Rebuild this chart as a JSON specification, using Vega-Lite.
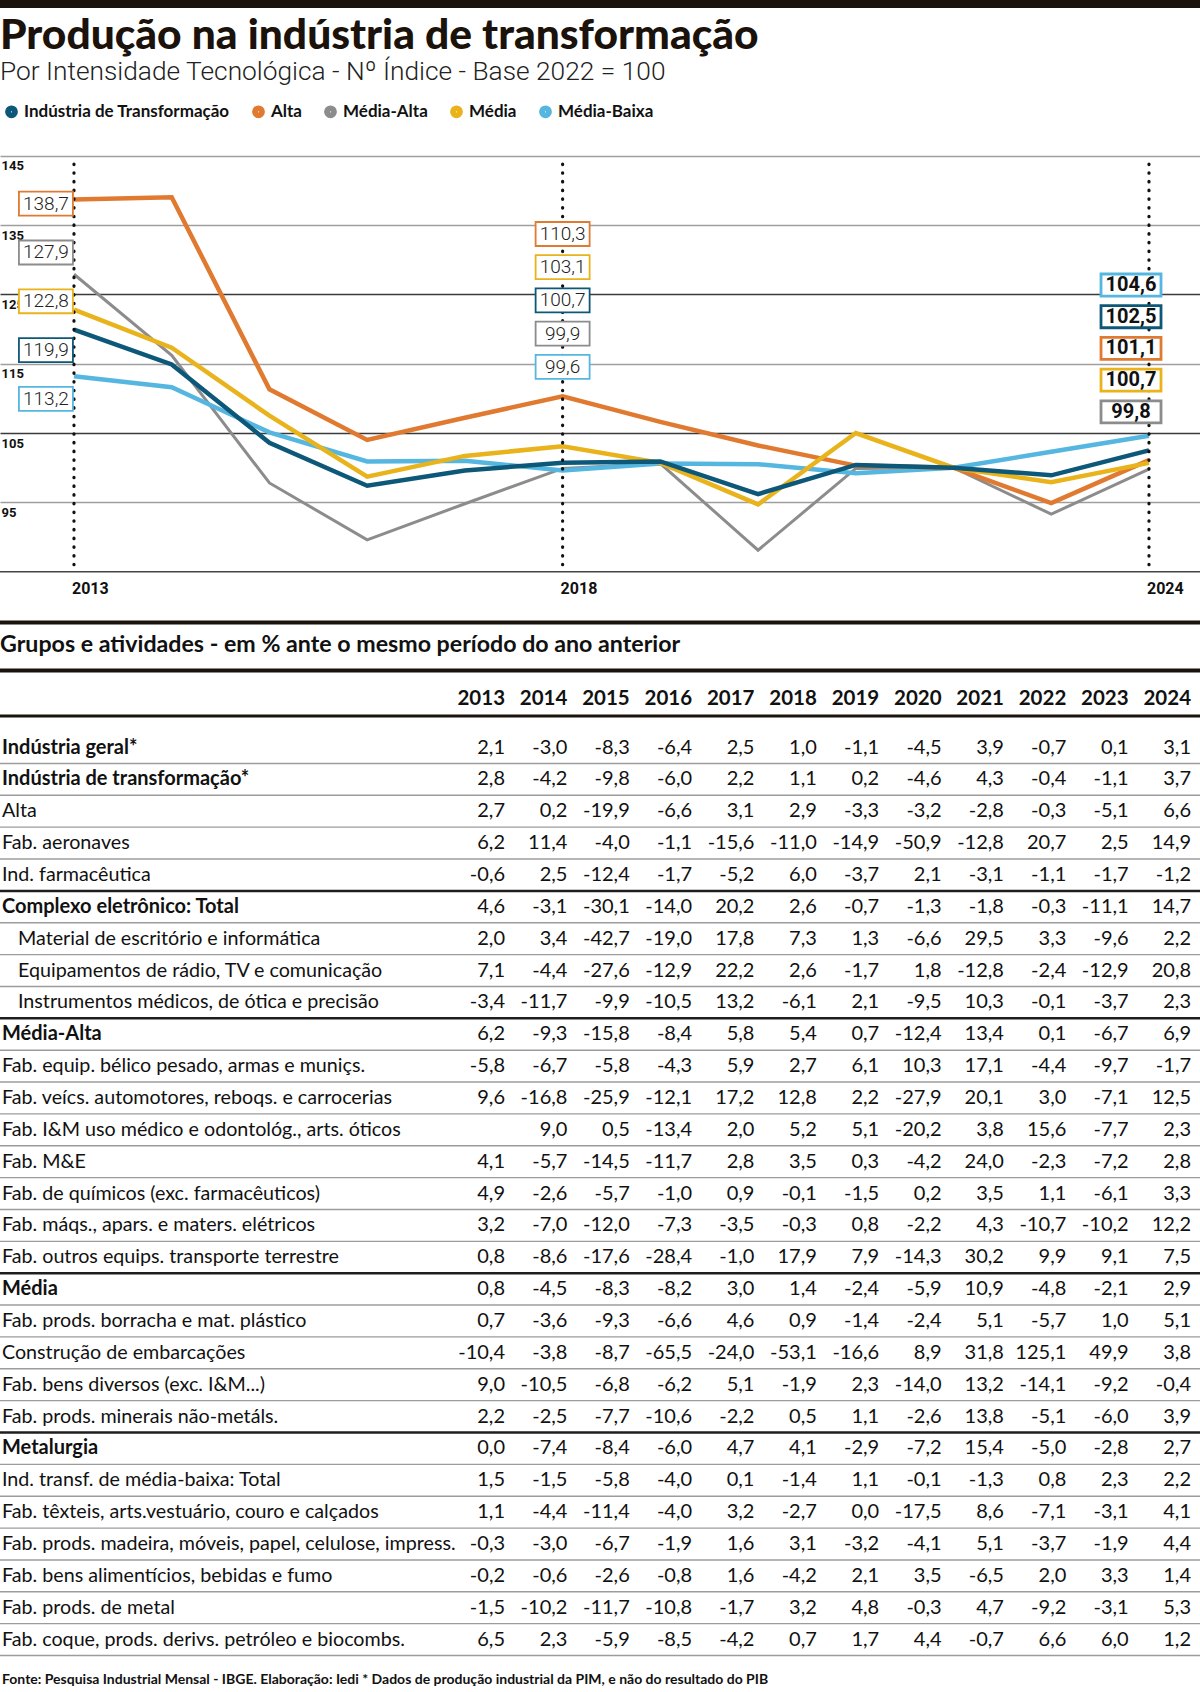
{
  "$schema": "https://vega.github.io/schema/vega-lite/v6.json",
  "width": 1200,
  "height": 1692,
  "autosize": {"type": "none"},
  "padding": 0,
  "background": "white",
  "title": {
    "text": "Produção na indústria de transformação",
    "subtitle": "Por Intensidade Tecnológica - Nº Índice - Base 2022 = 100",
    "anchor": "start",
    "frame": "group",
    "offset": -85,
    "font": "Lato",
    "fontWeight": 900,
    "fontSize": 42.5,
    "color": "#1a120b",
    "subtitleFont": "Roboto",
    "subtitleFontWeight": 300,
    "subtitleFontSize": 26.3,
    "subtitleColor": "#222222",
    "subtitlePadding": 1
  },
  "config": {
    "view": {"stroke": null},
    "locale": {"number": {"decimal": ",", "thousands": ".", "grouping": [3], "currency": ["R$", ""], "minus": "-"}}
  },
  "datasets": {
    "series": [
      {"series": "Média-Alta", "year": 2013, "value": 127.9},
      {"series": "Média-Alta", "year": 2014, "value": 116.2},
      {"series": "Média-Alta", "year": 2015, "value": 97.8},
      {"series": "Média-Alta", "year": 2016, "value": 89.6},
      {"series": "Média-Alta", "year": 2017, "value": 94.8},
      {"series": "Média-Alta", "year": 2018, "value": 99.9},
      {"series": "Média-Alta", "year": 2019, "value": 100.6},
      {"series": "Média-Alta", "year": 2020, "value": 88.1},
      {"series": "Média-Alta", "year": 2021, "value": 99.9},
      {"series": "Média-Alta", "year": 2022, "value": 100.0},
      {"series": "Média-Alta", "year": 2023, "value": 93.3},
      {"series": "Média-Alta", "year": 2024, "value": 99.8},
      {"series": "Média-Baixa", "year": 2013, "value": 113.2},
      {"series": "Média-Baixa", "year": 2014, "value": 111.6},
      {"series": "Média-Baixa", "year": 2015, "value": 105.1},
      {"series": "Média-Baixa", "year": 2016, "value": 100.9},
      {"series": "Média-Baixa", "year": 2017, "value": 101.0},
      {"series": "Média-Baixa", "year": 2018, "value": 99.6},
      {"series": "Média-Baixa", "year": 2019, "value": 100.6},
      {"series": "Média-Baixa", "year": 2020, "value": 100.5},
      {"series": "Média-Baixa", "year": 2021, "value": 99.2},
      {"series": "Média-Baixa", "year": 2022, "value": 100.0},
      {"series": "Média-Baixa", "year": 2023, "value": 102.3},
      {"series": "Média-Baixa", "year": 2024, "value": 104.6},
      {"series": "Alta", "year": 2013, "value": 138.7},
      {"series": "Alta", "year": 2014, "value": 139.0},
      {"series": "Alta", "year": 2015, "value": 111.3},
      {"series": "Alta", "year": 2016, "value": 104.0},
      {"series": "Alta", "year": 2017, "value": 107.2},
      {"series": "Alta", "year": 2018, "value": 110.3},
      {"series": "Alta", "year": 2019, "value": 106.6},
      {"series": "Alta", "year": 2020, "value": 103.2},
      {"series": "Alta", "year": 2021, "value": 100.3},
      {"series": "Alta", "year": 2022, "value": 100.0},
      {"series": "Alta", "year": 2023, "value": 94.9},
      {"series": "Alta", "year": 2024, "value": 101.1},
      {"series": "Média", "year": 2013, "value": 122.8},
      {"series": "Média", "year": 2014, "value": 117.3},
      {"series": "Média", "year": 2015, "value": 107.5},
      {"series": "Média", "year": 2016, "value": 98.7},
      {"series": "Média", "year": 2017, "value": 101.7},
      {"series": "Média", "year": 2018, "value": 103.1},
      {"series": "Média", "year": 2019, "value": 100.7},
      {"series": "Média", "year": 2020, "value": 94.7},
      {"series": "Média", "year": 2021, "value": 105.0},
      {"series": "Média", "year": 2022, "value": 100.0},
      {"series": "Média", "year": 2023, "value": 97.9},
      {"series": "Média", "year": 2024, "value": 100.7},
      {"series": "Indústria de Transformação", "year": 2013, "value": 119.9},
      {"series": "Indústria de Transformação", "year": 2014, "value": 114.9},
      {"series": "Indústria de Transformação", "year": 2015, "value": 103.6},
      {"series": "Indústria de Transformação", "year": 2016, "value": 97.4},
      {"series": "Indústria de Transformação", "year": 2017, "value": 99.6},
      {"series": "Indústria de Transformação", "year": 2018, "value": 100.7},
      {"series": "Indústria de Transformação", "year": 2019, "value": 100.9},
      {"series": "Indústria de Transformação", "year": 2020, "value": 96.2},
      {"series": "Indústria de Transformação", "year": 2021, "value": 100.4},
      {"series": "Indústria de Transformação", "year": 2022, "value": 100.0},
      {"series": "Indústria de Transformação", "year": 2023, "value": 98.9},
      {"series": "Indústria de Transformação", "year": 2024, "value": 102.5}
    ],
    "marks": [{"year": 2013}, {"year": 2018}, {"year": 2024}],
    "years": [{"year": 2013}, {"year": 2014}, {"year": 2015}, {"year": 2016}, {"year": 2017}, {"year": 2018}, {"year": 2019}, {"year": 2020}, {"year": 2021}, {"year": 2022}, {"year": 2023}, {"year": 2024}],
    "table": [
      {"row": 1, "level": "head", "label": "Indústria geral*", "2013": 2.1, "2014": -3.0, "2015": -8.3, "2016": -6.4, "2017": 2.5, "2018": 1.0, "2019": -1.1, "2020": -4.5, "2021": 3.9, "2022": -0.7, "2023": 0.1, "2024": 3.1},
      {"row": 2, "level": "head", "label": "Indústria de transformação*", "2013": 2.8, "2014": -4.2, "2015": -9.8, "2016": -6.0, "2017": 2.2, "2018": 1.1, "2019": 0.2, "2020": -4.6, "2021": 4.3, "2022": -0.4, "2023": -1.1, "2024": 3.7},
      {"row": 3, "level": "item", "label": "Alta", "2013": 2.7, "2014": 0.2, "2015": -19.9, "2016": -6.6, "2017": 3.1, "2018": 2.9, "2019": -3.3, "2020": -3.2, "2021": -2.8, "2022": -0.3, "2023": -5.1, "2024": 6.6},
      {"row": 4, "level": "item", "label": "Fab. aeronaves", "2013": 6.2, "2014": 11.4, "2015": -4.0, "2016": -1.1, "2017": -15.6, "2018": -11.0, "2019": -14.9, "2020": -50.9, "2021": -12.8, "2022": 20.7, "2023": 2.5, "2024": 14.9},
      {"row": 5, "level": "item", "label": "Ind. farmacêutica", "2013": -0.6, "2014": 2.5, "2015": -12.4, "2016": -1.7, "2017": -5.2, "2018": 6.0, "2019": -3.7, "2020": 2.1, "2021": -3.1, "2022": -1.1, "2023": -1.7, "2024": -1.2},
      {"row": 6, "level": "group", "label": "Complexo eletrônico: Total", "2013": 4.6, "2014": -3.1, "2015": -30.1, "2016": -14.0, "2017": 20.2, "2018": 2.6, "2019": -0.7, "2020": -1.3, "2021": -1.8, "2022": -0.3, "2023": -11.1, "2024": 14.7},
      {"row": 7, "level": "sub", "label": "Material de escritório e informática", "2013": 2.0, "2014": 3.4, "2015": -42.7, "2016": -19.0, "2017": 17.8, "2018": 7.3, "2019": 1.3, "2020": -6.6, "2021": 29.5, "2022": 3.3, "2023": -9.6, "2024": 2.2},
      {"row": 8, "level": "sub", "label": "Equipamentos de rádio, TV e comunicação", "2013": 7.1, "2014": -4.4, "2015": -27.6, "2016": -12.9, "2017": 22.2, "2018": 2.6, "2019": -1.7, "2020": 1.8, "2021": -12.8, "2022": -2.4, "2023": -12.9, "2024": 20.8},
      {"row": 9, "level": "sub", "label": "Instrumentos médicos, de ótica e precisão", "2013": -3.4, "2014": -11.7, "2015": -9.9, "2016": -10.5, "2017": 13.2, "2018": -6.1, "2019": 2.1, "2020": -9.5, "2021": 10.3, "2022": -0.1, "2023": -3.7, "2024": 2.3},
      {"row": 10, "level": "group", "label": "Média-Alta", "2013": 6.2, "2014": -9.3, "2015": -15.8, "2016": -8.4, "2017": 5.8, "2018": 5.4, "2019": 0.7, "2020": -12.4, "2021": 13.4, "2022": 0.1, "2023": -6.7, "2024": 6.9},
      {"row": 11, "level": "item", "label": "Fab. equip. bélico pesado, armas e muniçs.", "2013": -5.8, "2014": -6.7, "2015": -5.8, "2016": -4.3, "2017": 5.9, "2018": 2.7, "2019": 6.1, "2020": 10.3, "2021": 17.1, "2022": -4.4, "2023": -9.7, "2024": -1.7},
      {"row": 12, "level": "item", "label": "Fab. veícs. automotores, reboqs. e carrocerias", "2013": 9.6, "2014": -16.8, "2015": -25.9, "2016": -12.1, "2017": 17.2, "2018": 12.8, "2019": 2.2, "2020": -27.9, "2021": 20.1, "2022": 3.0, "2023": -7.1, "2024": 12.5},
      {"row": 13, "level": "item", "label": "Fab. I&M uso médico e odontológ., arts. óticos", "2013": null, "2014": 9.0, "2015": 0.5, "2016": -13.4, "2017": 2.0, "2018": 5.2, "2019": 5.1, "2020": -20.2, "2021": 3.8, "2022": 15.6, "2023": -7.7, "2024": 2.3},
      {"row": 14, "level": "item", "label": "Fab. M&E", "2013": 4.1, "2014": -5.7, "2015": -14.5, "2016": -11.7, "2017": 2.8, "2018": 3.5, "2019": 0.3, "2020": -4.2, "2021": 24.0, "2022": -2.3, "2023": -7.2, "2024": 2.8},
      {"row": 15, "level": "item", "label": "Fab. de químicos (exc. farmacêuticos)", "2013": 4.9, "2014": -2.6, "2015": -5.7, "2016": -1.0, "2017": 0.9, "2018": -0.1, "2019": -1.5, "2020": 0.2, "2021": 3.5, "2022": 1.1, "2023": -6.1, "2024": 3.3},
      {"row": 16, "level": "item", "label": "Fab. máqs., apars. e maters. elétricos", "2013": 3.2, "2014": -7.0, "2015": -12.0, "2016": -7.3, "2017": -3.5, "2018": -0.3, "2019": 0.8, "2020": -2.2, "2021": 4.3, "2022": -10.7, "2023": -10.2, "2024": 12.2},
      {"row": 17, "level": "item", "label": "Fab. outros equips. transporte terrestre", "2013": 0.8, "2014": -8.6, "2015": -17.6, "2016": -28.4, "2017": -1.0, "2018": 17.9, "2019": 7.9, "2020": -14.3, "2021": 30.2, "2022": 9.9, "2023": 9.1, "2024": 7.5},
      {"row": 18, "level": "group", "label": "Média", "2013": 0.8, "2014": -4.5, "2015": -8.3, "2016": -8.2, "2017": 3.0, "2018": 1.4, "2019": -2.4, "2020": -5.9, "2021": 10.9, "2022": -4.8, "2023": -2.1, "2024": 2.9},
      {"row": 19, "level": "item", "label": "Fab. prods. borracha e mat. plástico", "2013": 0.7, "2014": -3.6, "2015": -9.3, "2016": -6.6, "2017": 4.6, "2018": 0.9, "2019": -1.4, "2020": -2.4, "2021": 5.1, "2022": -5.7, "2023": 1.0, "2024": 5.1},
      {"row": 20, "level": "item", "label": "Construção de embarcações", "2013": -10.4, "2014": -3.8, "2015": -8.7, "2016": -65.5, "2017": -24.0, "2018": -53.1, "2019": -16.6, "2020": 8.9, "2021": 31.8, "2022": 125.1, "2023": 49.9, "2024": 3.8},
      {"row": 21, "level": "item", "label": "Fab. bens diversos (exc. I&M...)", "2013": 9.0, "2014": -10.5, "2015": -6.8, "2016": -6.2, "2017": 5.1, "2018": -1.9, "2019": 2.3, "2020": -14.0, "2021": 13.2, "2022": -14.1, "2023": -9.2, "2024": -0.4},
      {"row": 22, "level": "item", "label": "Fab. prods. minerais não-metáls.", "2013": 2.2, "2014": -2.5, "2015": -7.7, "2016": -10.6, "2017": -2.2, "2018": 0.5, "2019": 1.1, "2020": -2.6, "2021": 13.8, "2022": -5.1, "2023": -6.0, "2024": 3.9},
      {"row": 23, "level": "group", "label": "Metalurgia", "2013": 0.0, "2014": -7.4, "2015": -8.4, "2016": -6.0, "2017": 4.7, "2018": 4.1, "2019": -2.9, "2020": -7.2, "2021": 15.4, "2022": -5.0, "2023": -2.8, "2024": 2.7},
      {"row": 24, "level": "item", "label": "Ind. transf. de média-baixa: Total", "2013": 1.5, "2014": -1.5, "2015": -5.8, "2016": -4.0, "2017": 0.1, "2018": -1.4, "2019": 1.1, "2020": -0.1, "2021": -1.3, "2022": 0.8, "2023": 2.3, "2024": 2.2},
      {"row": 25, "level": "item", "label": "Fab. têxteis, arts.vestuário, couro e calçados", "2013": 1.1, "2014": -4.4, "2015": -11.4, "2016": -4.0, "2017": 3.2, "2018": -2.7, "2019": 0.0, "2020": -17.5, "2021": 8.6, "2022": -7.1, "2023": -3.1, "2024": 4.1},
      {"row": 26, "level": "item", "label": "Fab. prods. madeira, móveis, papel, celulose, impress.", "2013": -0.3, "2014": -3.0, "2015": -6.7, "2016": -1.9, "2017": 1.6, "2018": 3.1, "2019": -3.2, "2020": -4.1, "2021": 5.1, "2022": -3.7, "2023": -1.9, "2024": 4.4},
      {"row": 27, "level": "item", "label": "Fab. bens alimentícios, bebidas e fumo", "2013": -0.2, "2014": -0.6, "2015": -2.6, "2016": -0.8, "2017": 1.6, "2018": -4.2, "2019": 2.1, "2020": 3.5, "2021": -6.5, "2022": 2.0, "2023": 3.3, "2024": 1.4},
      {"row": 28, "level": "item", "label": "Fab. prods. de metal", "2013": -1.5, "2014": -10.2, "2015": -11.7, "2016": -10.8, "2017": -1.7, "2018": 3.2, "2019": 4.8, "2020": -0.3, "2021": 4.7, "2022": -9.2, "2023": -3.1, "2024": 5.3},
      {"row": 29, "level": "item", "label": "Fab. coque, prods. derivs. petróleo e biocombs.", "2013": 6.5, "2014": 2.3, "2015": -5.9, "2016": -8.5, "2017": -4.2, "2018": 0.7, "2019": 1.7, "2020": 4.4, "2021": -0.7, "2022": 6.6, "2023": 6.0, "2024": 1.2}
    ]
  },
  "layer": [
    {
      "layer": [
        {
          "data": {"name": "series"},
          "mark": {"type": "line"},
          "encoding": {
            "x": {"field": "year", "type": "quantitative", "scale": {"domain": [2012.243, 2024.522], "nice": false, "zero": false}, "axis": null},
            "y": {"field": "value", "type": "quantitative", "scale": {"domain": [-76.59, 167.46], "nice": false, "zero": false},
              "axis": {"values": [95, 105, 115, 125, 135, 145], "grid": true, "gridWidth": 1.5,
                "gridColor": {"condition": {"test": "datum.value === 125 || datum.value === 105", "value": "#3a3a3a"}, "value": "#9e9e9e"},
                "domain": false, "ticks": false, "title": null, "labelAlign": "left", "labelBaseline": "top", "labelPadding": -1, "labelOffset": 4,
                "labelFont": "Roboto", "labelFontWeight": "bold", "labelFontSize": 13, "labelColor": "#111111"}},
            "color": {"field": "series", "type": "nominal",
              "scale": {"domain": ["Indústria de Transformação", "Alta", "Média-Alta", "Média", "Média-Baixa"], "range": ["#0d5878", "#e07a30", "#8c8c8c", "#e9b31c", "#55b6e0"]},
              "legend": {"orient": "none", "legendX": 3, "legendY": 103, "direction": "horizontal", "title": null, "symbolType": "circle", "symbolSize": 34, "symbolStrokeWidth": 7,
                "labelFont": "Lato", "labelFontWeight": "bold", "labelFontSize": 17, "labelColor": "#111111", "labelLimit": 400, "columnPadding": 11, "labelOffset": 4}},
            "strokeWidth": {"condition": {"test": "datum.series === 'Média-Alta'", "value": 3}, "value": 4.5}
          }
        },
        {
          "data": {"name": "marks"},
          "mark": {"type": "rule", "strokeDash": [0.5, 8.2], "strokeCap": "round", "strokeWidth": 3.2, "color": "#111111"},
          "encoding": {
            "x": {"field": "year", "type": "quantitative", "scale": {"domain": [2012.243, 2024.522], "nice": false, "zero": false}, "axis": null},
            "y": {"datum": 143.8, "type": "quantitative", "scale": {"domain": [-76.59, 167.46], "nice": false, "zero": false}},
            "y2": {"datum": 85}
          }
        },
        {
          "data": {"values": [{}]},
          "mark": {"type": "rule", "color": "#444444", "strokeWidth": 1.6},
          "encoding": {"y": {"datum": 85, "type": "quantitative", "scale": {"domain": [-76.59, 167.46], "nice": false, "zero": false}}}
        },
        {
          "data": {"values": [{}]},
          "mark": {"type": "rule", "color": "#1a120b", "strokeWidth": 8},
          "encoding": {"y": {"datum": 166.9, "type": "quantitative", "scale": {"domain": [-76.59, 167.46], "nice": false, "zero": false}}}
        },
        {
          "data": {"name": "marks"},
          "mark": {"type": "text", "align": "left", "baseline": "middle", "dx": -2, "font": "Roboto", "fontWeight": "bold", "fontSize": 16, "color": "#111111"},
          "encoding": {
            "x": {"field": "year", "type": "quantitative", "scale": {"domain": [2012.243, 2024.522], "nice": false, "zero": false}, "axis": null},
            "y": {"datum": 82.5, "type": "quantitative", "scale": {"domain": [-76.59, 167.46], "nice": false, "zero": false}},
            "text": {"field": "year", "type": "nominal"}
          }
        }
      ]
    },
    {
      "data": {"name": "series"},
      "transform": [{"filter": "datum.year == 2013"}, {"window": [{"op": "row_number", "as": "rank"}], "sort": [{"field": "value", "order": "descending"}]}],
      "layer": [
        {
          "mark": {"type": "point", "shape": "M-1,-0.444H1V0.444H-1Z", "size": 2916, "filled": true, "fill": "white", "strokeWidth": 1.8, "opacity": 1},
          "encoding": {
            "x": {"field": "year", "type": "quantitative", "scale": {"domain": [2012.530, 2024.809], "nice": false, "zero": false}, "axis": null},
            "y": {"field": "rank", "type": "quantitative", "scale": {"domain": [-3.176, 31.51], "reverse": true, "nice": false, "zero": false}, "axis": null},
            "stroke": {"field": "series", "type": "nominal", "scale": {"domain": ["Indústria de Transformação", "Alta", "Média-Alta", "Média", "Média-Baixa"], "range": ["#0d5878", "#e07a30", "#8c8c8c", "#e9b31c", "#55b6e0"]}, "legend": null}
          }
        },
        {
          "mark": {"type": "text", "font": "Roboto", "fontWeight": 300, "fontSize": 19, "color": "#222222", "align": "center", "baseline": "middle"},
          "encoding": {
            "x": {"field": "year", "type": "quantitative", "scale": {"domain": [2012.530, 2024.809], "nice": false, "zero": false}, "axis": null},
            "y": {"field": "rank", "type": "quantitative", "scale": {"domain": [-3.176, 31.51], "reverse": true, "nice": false, "zero": false}, "axis": null},
            "text": {"field": "value", "type": "quantitative", "format": ".1f"}
          }
        }
      ]
    },
    {
      "data": {"name": "series"},
      "transform": [{"filter": "datum.year == 2018"}, {"window": [{"op": "row_number", "as": "rank"}], "sort": [{"field": "value", "order": "descending"}]}],
      "layer": [
        {
          "mark": {"type": "point", "shape": "M-1,-0.444H1V0.444H-1Z", "size": 2916, "filled": true, "fill": "white", "strokeWidth": 1.8, "opacity": 1},
          "encoding": {
            "x": {"field": "year", "type": "quantitative", "scale": {"domain": [2012.243, 2024.522], "nice": false, "zero": false}, "axis": null},
            "y": {"field": "rank", "type": "quantitative", "scale": {"domain": [-6.048, 44.916], "reverse": true, "nice": false, "zero": false}, "axis": null},
            "stroke": {"field": "series", "type": "nominal", "scale": {"domain": ["Indústria de Transformação", "Alta", "Média-Alta", "Média", "Média-Baixa"], "range": ["#0d5878", "#e07a30", "#8c8c8c", "#e9b31c", "#55b6e0"]}, "legend": null}
          }
        },
        {
          "mark": {"type": "text", "font": "Roboto", "fontWeight": 300, "fontSize": 19, "color": "#222222", "align": "center", "baseline": "middle"},
          "encoding": {
            "x": {"field": "year", "type": "quantitative", "scale": {"domain": [2012.243, 2024.522], "nice": false, "zero": false}, "axis": null},
            "y": {"field": "rank", "type": "quantitative", "scale": {"domain": [-6.048, 44.916], "reverse": true, "nice": false, "zero": false}, "axis": null},
            "text": {"field": "value", "type": "quantitative", "format": ".1f"}
          }
        }
      ]
    },
    {
      "data": {"name": "series"},
      "transform": [{"filter": "datum.year == 2024"}, {"window": [{"op": "row_number", "as": "rank"}], "sort": [{"field": "value", "order": "descending"}]}],
      "layer": [
        {
          "mark": {"type": "point", "shape": "M-1,-0.367H1V0.367H-1Z", "size": 3600, "filled": true, "fill": "white", "strokeWidth": 2.8, "opacity": 1},
          "encoding": {
            "x": {"field": "year", "type": "quantitative", "scale": {"domain": [2012.427, 2024.706], "nice": false, "zero": false}, "axis": null},
            "y": {"field": "rank", "type": "quantitative", "scale": {"domain": [-7.991, 45.384], "reverse": true, "nice": false, "zero": false}, "axis": null},
            "stroke": {"field": "series", "type": "nominal", "scale": {"domain": ["Indústria de Transformação", "Alta", "Média-Alta", "Média", "Média-Baixa"], "range": ["#0d5878", "#e07a30", "#8c8c8c", "#e9b31c", "#55b6e0"]}, "legend": null}
          }
        },
        {
          "mark": {"type": "text", "font": "Roboto", "fontWeight": "bold", "fontSize": 20, "color": "#111111", "align": "center", "baseline": "middle"},
          "encoding": {
            "x": {"field": "year", "type": "quantitative", "scale": {"domain": [2012.427, 2024.706], "nice": false, "zero": false}, "axis": null},
            "y": {"field": "rank", "type": "quantitative", "scale": {"domain": [-7.991, 45.384], "reverse": true, "nice": false, "zero": false}, "axis": null},
            "text": {"field": "value", "type": "quantitative", "format": ".1f"}
          }
        }
      ]
    },
    {
      "layer": [
        {
          "data": {"values": [{}]},
          "mark": {"type": "rule", "color": "#1a120b", "strokeWidth": 4},
          "encoding": {"y": {"datum": -2.92, "type": "quantitative", "scale": {"domain": [-22.462, 30.645], "reverse": true, "nice": false, "zero": false}, "axis": null}}
        },
        {
          "data": {"values": [{}]},
          "mark": {"type": "rule", "color": "#1a120b", "strokeWidth": 4},
          "encoding": {"y": {"datum": -1.414, "type": "quantitative", "scale": {"domain": [-22.462, 30.645], "reverse": true, "nice": false, "zero": false}, "axis": null}}
        },
        {
          "data": {"values": [{}]},
          "mark": {"type": "rule", "color": "#1a120b", "strokeWidth": 3},
          "encoding": {"y": {"datum": 0.012, "type": "quantitative", "scale": {"domain": [-22.462, 30.645], "reverse": true, "nice": false, "zero": false}, "axis": null}}
        },
        {
          "data": {"values": [{}]},
          "mark": {"type": "rule", "color": "#9c9c9c", "strokeWidth": 1.4},
          "encoding": {"y": {"datum": 29.5, "type": "quantitative", "scale": {"domain": [-22.462, 30.645], "reverse": true, "nice": false, "zero": false}, "axis": null}}
        },
        {
          "data": {"values": [{}]},
          "mark": {"type": "text", "text": "Grupos e atividades - em %  ante o mesmo período do ano anterior", "align": "left", "baseline": "middle", "font": "Lato", "fontWeight": "bold", "fontSize": 23.2, "color": "#111111"},
          "encoding": {
            "x": {"datum": 2004.902, "type": "quantitative", "scale": {"domain": [2004.902, 2024.144], "nice": false, "zero": false}, "axis": null},
            "y": {"datum": -2.217, "type": "quantitative", "scale": {"domain": [-22.462, 30.645], "reverse": true, "nice": false, "zero": false}, "axis": null}
          }
        },
        {
          "data": {"name": "years"},
          "mark": {"type": "text", "align": "right", "baseline": "middle", "font": "Lato", "fontWeight": "bold", "fontSize": 20.5, "color": "#111111"},
          "encoding": {
            "x": {"field": "year", "type": "quantitative", "scale": {"domain": [2004.902, 2024.144], "nice": false, "zero": false}, "axis": null},
            "y": {"datum": -0.538, "type": "quantitative", "scale": {"domain": [-22.462, 30.645], "reverse": true, "nice": false, "zero": false}, "axis": null},
            "text": {"field": "year", "type": "nominal"}
          }
        },
        {
          "data": {"name": "table"},
          "transform": [{"filter": "datum.level === 'head' || datum.level === 'group'"}],
          "mark": {"type": "text", "align": "left", "baseline": "middle", "font": "Lato", "fontWeight": "bold", "fontSize": 20, "color": "#111111"},
          "encoding": {
            "x": {"datum": 2004.934, "type": "quantitative", "scale": {"domain": [2004.902, 2024.144], "nice": false, "zero": false}, "axis": null},
            "y": {"field": "row", "type": "quantitative", "scale": {"domain": [-22.462, 30.645], "reverse": true, "nice": false, "zero": false}, "axis": null},
            "text": {"field": "label", "type": "nominal"}
          }
        },
        {
          "data": {"name": "table"},
          "transform": [{"filter": "datum.level === 'item'"}],
          "mark": {"type": "text", "align": "left", "baseline": "middle", "font": "Lato", "fontSize": 19.7, "color": "#111111"},
          "encoding": {
            "x": {"datum": 2004.934, "type": "quantitative", "scale": {"domain": [2004.902, 2024.144], "nice": false, "zero": false}, "axis": null},
            "y": {"field": "row", "type": "quantitative", "scale": {"domain": [-22.462, 30.645], "reverse": true, "nice": false, "zero": false}, "axis": null},
            "text": {"field": "label", "type": "nominal"}
          }
        },
        {
          "data": {"name": "table"},
          "transform": [{"filter": "datum.level === 'sub'"}],
          "mark": {"type": "text", "align": "left", "baseline": "middle", "dx": 16, "font": "Lato", "fontSize": 19.7, "color": "#111111"},
          "encoding": {
            "x": {"datum": 2004.934, "type": "quantitative", "scale": {"domain": [2004.902, 2024.144], "nice": false, "zero": false}, "axis": null},
            "y": {"field": "row", "type": "quantitative", "scale": {"domain": [-22.462, 30.645], "reverse": true, "nice": false, "zero": false}, "axis": null},
            "text": {"field": "label", "type": "nominal"}
          }
        },
        {
          "data": {"name": "table"},
          "transform": [
            {"fold": ["2013", "2014", "2015", "2016", "2017", "2018", "2019", "2020", "2021", "2022", "2023", "2024"], "as": ["year", "value"]},
            {"filter": "isValid(datum.value)"}
          ],
          "mark": {"type": "text", "align": "right", "baseline": "middle", "font": "Lato", "fontSize": 20, "color": "#111111"},
          "encoding": {
            "x": {"field": "year", "type": "quantitative", "scale": {"domain": [2004.902, 2024.144], "nice": false, "zero": false}, "axis": null},
            "y": {"field": "row", "type": "quantitative", "scale": {"domain": [-22.462, 30.645], "reverse": true, "nice": false, "zero": false}, "axis": null},
            "text": {"field": "value", "type": "quantitative", "format": ".1f"}
          }
        },
        {
          "data": {"values": [{}]},
          "mark": {"type": "text", "text": "Fonte: Pesquisa Industrial Mensal - IBGE. Elaboração: Iedi * Dados de produção industrial da PIM, e não do resultado do PIB", "align": "left", "baseline": "middle", "font": "Lato", "fontWeight": "bold", "fontSize": 14, "color": "#111111"},
          "encoding": {
            "x": {"datum": 2004.934, "type": "quantitative", "scale": {"domain": [2004.902, 2024.144], "nice": false, "zero": false}, "axis": null},
            "y": {"datum": 30.27, "type": "quantitative", "scale": {"domain": [-22.462, 30.645], "reverse": true, "nice": false, "zero": false}, "axis": null}
          }
        }
      ]
    },
    {
      "data": {"name": "table"},
      "transform": [{"filter": "datum.row > 1"}],
      "mark": {"type": "rule"},
      "encoding": {
        "y": {"field": "row", "type": "quantitative", "scale": {"domain": [-21.962, 31.145], "reverse": true, "nice": false, "zero": false}, "axis": null},
        "color": {"condition": {"test": "datum.level === 'group'", "value": "#1e1e1e"}, "value": "#9c9c9c"},
        "strokeWidth": {"condition": {"test": "datum.level === 'group'", "value": 2.5}, "value": 1.4}
      }
    }
  ],
  "resolve": {"scale": {"x": "independent", "y": "independent"}, "axis": {"x": "independent", "y": "independent"}}
}
